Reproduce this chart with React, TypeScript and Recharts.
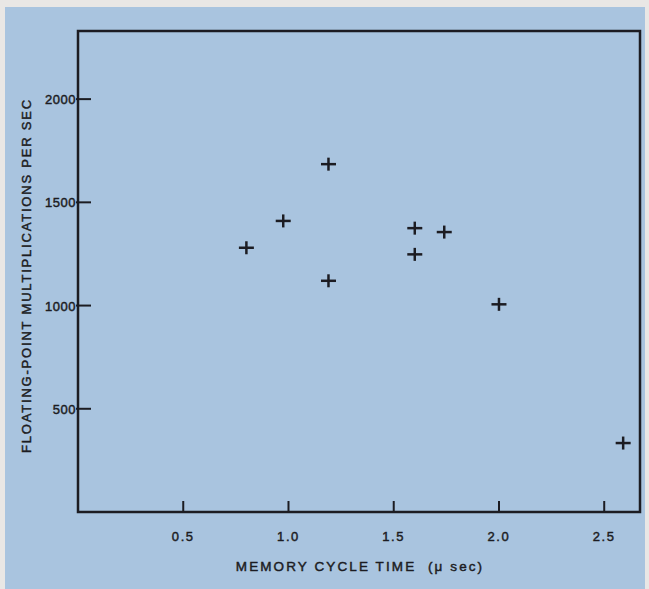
import React from "react";
import { ScatterChart, Scatter, XAxis, YAxis, ReferenceArea, Label } from "recharts";

const cycleTimes = [0.8, 0.975, 1.19, 1.19, 1.6, 1.6, 1.74, 2.0, 2.59];
const multsPerSec = [1280, 1410, 1685, 1120, 1375, 1248, 1356, 1006, 334];
const xTicks = [0.5, 1.0, 1.5, 2.0, 2.5];
const xTickLabels = ["0.5", "1.0", "1.5", "2.0", "2.5"];
const yTicks = [500, 1000, 1500, 2000];
const yTickLabels = ["500", "1000", "1500", "2000"];
const xLabel = "MEMORY CYCLE TIME  (\u03bc sec)";
const yLabel = "FLOATING-POINT MULTIPLICATIONS PER SEC";

const X_MAX = 2.67;
const Y_MAX = 2330;

const data = cycleTimes.map((x, i) => ({ x, y: multsPerSec[i] }));

const INK = "#1c1c22";
const FONT = "'Liberation Sans', Arial, sans-serif";

const PlusShape = (props: any) => {
  const { cx, cy } = props;
  if (cx == null || cy == null) return null;
  return (
    <g>
      <line x1={cx - 7.5} y1={cy} x2={cx + 7.5} y2={cy} stroke={INK} strokeWidth={2.5} />
      <line x1={cx} y1={cy - 6.5} x2={cx} y2={cy + 6.5} stroke={INK} strokeWidth={2.5} />
    </g>
  );
};

const XTick = (props: any) => {
  const { x, y, payload } = props;
  const idx = xTicks.indexOf(payload.value);
  return (
    <g>
      <line x1={x} y1={y} x2={x} y2={y - 11} stroke={INK} strokeWidth={2} />
      <text x={x} y={y + 29} textAnchor="middle" fill={INK} stroke={INK} strokeWidth={0.45} fontSize={13} fontFamily={FONT} letterSpacing={1.6}>
        {idx >= 0 ? xTickLabels[idx] : payload.value}
      </text>
    </g>
  );
};

const YTick = (props: any) => {
  const { x, y, payload } = props;
  const idx = yTicks.indexOf(payload.value);
  return (
    <g>
      <line x1={x - 2} y1={y} x2={x + 13} y2={y} stroke={INK} strokeWidth={2} />
      <text x={x - 2} y={y + 5} textAnchor="end" fill={INK} stroke={INK} strokeWidth={0.45} fontSize={13} fontFamily={FONT} letterSpacing={0.5}>
        {idx >= 0 ? yTickLabels[idx] : payload.value}
      </text>
    </g>
  );
};

const YAxisLabel = (props: any) => {
  const { viewBox } = props;
  const cx = viewBox.x - 11.5;
  const cy = viewBox.y + viewBox.height / 2 + 4;
  return (
    <text
      x={cx}
      y={cy}
      transform={`rotate(-90, ${cx}, ${cy})`}
      textAnchor="middle"
      dominantBaseline="central"
      fill={INK}
      stroke={INK}
      strokeWidth={0.45}
      fontSize={13}
      fontFamily={FONT}
      letterSpacing={1.8}
    >
      {yLabel}
    </text>
  );
};

const XAxisLabel = (props: any) => {
  const { viewBox } = props;
  const cx = viewBox.x + viewBox.width / 2 + 1;
  const cy = viewBox.y + 59;
  return (
    <text
      x={cx}
      y={cy}
      textAnchor="middle"
      fill={INK}
      stroke={INK}
      strokeWidth={0.45}
      fontSize={13.5}
      fontFamily={FONT}
      letterSpacing={2.1}
      style={{ whiteSpace: "pre" }}
    >
      {xLabel}
    </text>
  );
};

export default function App() {
  return (
    <div style={{ position: "absolute", left: 0, top: 0, width: 649, height: 589, background: "#e9e7e5", overflow: "hidden" }}>
      <div style={{ position: "absolute", left: 5, top: 7, width: 640, height: 582, background: "#a9c4df" }} />
      <div style={{ position: "absolute", left: 0, top: 0 }}>
        <ScatterChart width={649} height={589} margin={{ top: 31, right: 9, bottom: 37, left: 38 }}>
          <XAxis
            type="number"
            dataKey="x"
            domain={[0, X_MAX]}
            ticks={xTicks}
            allowDataOverflow
            axisLine={false}
            tickLine={false}
            tickSize={0}
            tickMargin={0}
            height={40}
            tick={<XTick />}
            interval={0}
          >
            <Label content={<XAxisLabel />} />
          </XAxis>
          <YAxis
            type="number"
            dataKey="y"
            domain={[0, Y_MAX]}
            ticks={yTicks}
            allowDataOverflow
            axisLine={false}
            tickLine={false}
            tickSize={0}
            tickMargin={0}
            width={40}
            tick={<YTick />}
            interval={0}
          >
            <Label content={<YAxisLabel />} />
          </YAxis>
          <ReferenceArea x1={0} x2={X_MAX} y1={0} y2={Y_MAX} fill="none" stroke={INK} strokeWidth={2.5} ifOverflow="visible" />
          <Scatter data={data} shape={<PlusShape />} isAnimationActive={false} />
        </ScatterChart>
      </div>
    </div>
  );
}
